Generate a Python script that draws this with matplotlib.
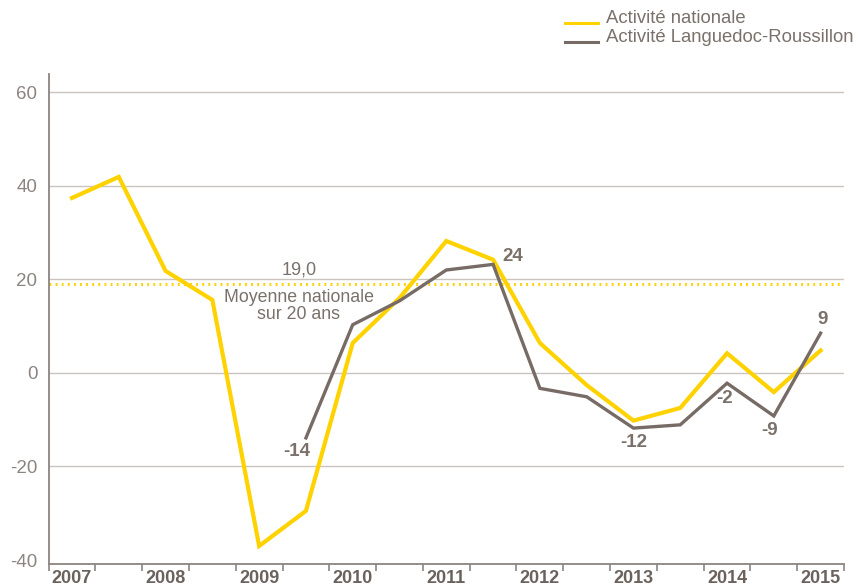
import numpy as np
import matplotlib
matplotlib.use('Agg')
import matplotlib.pyplot as plt
from matplotlib.lines import Line2D


YEARS = ['2007', '2008', '2009', '2010', '2011', '2012', '2013', '2014', '2015']

# half-year points, 2007 S1 .. 2015 S1
NATIONALE = [37.4, 41.9, 21.8, 15.6, -37.0, -29.5, 6.4, 16.0, 28.2,
             24.2, 6.4, -2.6, -10.2, -7.5, 4.2, -4.1, 4.8]
# Languedoc-Roussillon starts at 2009 S2
LR = [None, None, None, None, None, -13.9, 10.3, 15.4, 22.0,
      23.2, -3.3, -5.1, -11.8, -11.1, -2.2, -9.2, 8.5]
LR_LABELS = {5: '-14', 9: '24', 12: '-12', 14: '-2', 15: '-9', 16: '9'}
MOYENNE = 19.0

YELLOW = '#FFD200'
GREY = '#776B65'
TEXT = '#7A716B'
TICK = '#8C8480'
GRID = '#CBC3BE'

plt.rcParams['font.family'] = ['Liberation Sans', 'DejaVu Sans']

fig = plt.figure(figsize=(8.59, 5.87), dpi=100)
W, H = 859, 587
ax = fig.add_axes([48.6 / W, 1 - 564 / H, (844 - 48.6) / W, (564 - 74) / H])

x = np.arange(len(NATIONALE))
lr = np.array([np.nan if v is None else v for v in LR], dtype=float)

ax.set_xlim(-0.5, len(NATIONALE) - 0.5)
ax.set_ylim(-40.85, 63.9)

for yv in [-20, 0, 20, 40, 60]:
    ax.axhline(yv, color=GRID, lw=1.0, zorder=1)

ax.axhline(MOYENNE, color=YELLOW, lw=2.2, ls=(0, (0.6, 1.4)), zorder=2)

ax.plot(x, NATIONALE, color=YELLOW, lw=3.0, solid_joinstyle='miter', zorder=3)
ax.plot(x, lr, color=GREY, lw=2.4, solid_joinstyle='miter', zorder=4)

# value labels on the regional line
offsets = {5: (-9, -14), 9: (20, 8), 12: (0, -14), 14: (-2, -15), 15: (-4, -15), 16: (2, 14)}
for i, txt in LR_LABELS.items():
    dx, dy = offsets[i]
    ax.annotate(txt, (x[i], lr[i]), xytext=(dx, dy), textcoords='offset pixels',
                ha='center', va='center', fontsize=13.5, fontweight='bold', color=TEXT)

ax.text(4.85, MOYENNE + 1.2, '19,0', ha='center', va='bottom', fontsize=13, color=TEXT)
ax.text(4.85, MOYENNE - 1.1, 'Moyenne nationale\nsur 20 ans', ha='center', va='top',
        fontsize=12.8, color=TEXT, linespacing=1.0)

# axes styling
for side in ['top', 'right']:
    ax.spines[side].set_visible(False)
for side in ['left', 'bottom']:
    ax.spines[side].set_color(TICK)
    ax.spines[side].set_linewidth(1.3)

ax.set_yticks([-40, -20, 0, 20, 40, 60])
ax.set_yticklabels(['-40', '-20', '0', '20', '40', '60'])
ax.tick_params(axis='y', length=0, pad=8, labelsize=13.5, labelcolor=TICK)

ax.set_xticks(np.arange(-0.5, len(NATIONALE), 1.0))
ax.set_xticklabels([])
ax.tick_params(axis='x', which='major', length=5, width=1.2, color=TICK, direction='out')
ax.set_xticks(np.arange(0, len(NATIONALE), 2), minor=True)
ax.set_xticklabels(YEARS, minor=True)
ax.tick_params(axis='x', which='minor', length=0, pad=4, labelsize=13, labelcolor='#6B625D')
for lab in ax.get_xticklabels(minor=True):
    lab.set_fontweight('bold')

# legend drawn by hand in figure pixels
for yy, col, name in [(23, YELLOW, 'Activité nationale'),
                      (42, GREY, 'Activité Languedoc-Roussillon')]:
    fig.add_artist(Line2D([565 / W, 598 / W], [1 - yy / H, 1 - yy / H],
                          color=col, lw=2.2, transform=fig.transFigure))
    fig.text(606 / W, 1 - yy / H, name, ha='left', va='baseline',
             fontsize=13.3, color=TEXT)

fig.savefig('out.png', dpi=100)
